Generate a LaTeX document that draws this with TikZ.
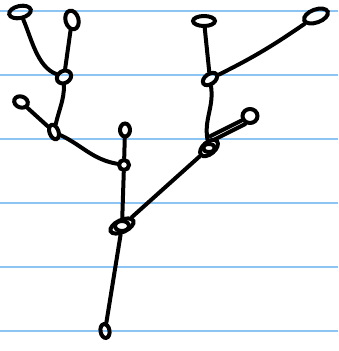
\documentclass[tikz,border=0pt]{standalone}
\usetikzlibrary{shapes.geometric,calc}
\definecolor{ruled}{HTML}{8CC4F4}
\tikzset{
  ink/.style={line width=4pt, line cap=round, line join=round, black},
  knob/.style={ellipse, draw, line width=4pt, inner sep=0pt},
  rule/.style={ruled, line width=1.3pt}
}
\begin{document}
\begin{tikzpicture}[x=1pt,y=-1pt]
\useasboundingbox (0,0) rectangle (338,351);
% ruled lines
\foreach \yy in {11,75,139,203,267,331}
  \draw[rule] (0,\yy) -- (338,\yy);
% nodes
\node[knob, minimum width=22pt, minimum height=12pt, rotate=12] (A) at (20,12) {};
\node[knob, minimum width=13pt, minimum height=19pt, rotate=15] (B) at (72,20) {};
\node[knob, minimum width=15pt, minimum height=12pt, rotate=30] (C) at (64,77) {};
\node[knob, minimum width=14pt, minimum height=11pt, rotate=-20] (D) at (21,102) {};
\node[knob, minimum width=9pt, minimum height=15pt, rotate=20] (E) at (54,132) {};
\node[knob, minimum width=10pt, minimum height=13pt] (F) at (125,130) {};
\node[knob, minimum width=10pt, minimum height=10pt] (G) at (124,165) {};
\node[knob, minimum width=25pt, minimum height=12pt, rotate=25] (H) at (122,226) {};
\node[knob, minimum width=9pt, minimum height=14pt, rotate=10] (I) at (105,331) {};
\node[knob, minimum width=22pt, minimum height=10pt] (J) at (204,21) {};
\node[knob, minimum width=25pt, minimum height=13pt, rotate=20] (K) at (316,16) {};
\node[knob, minimum width=16pt, minimum height=10pt, rotate=35] (L) at (210,79) {};
\node[knob, minimum width=15pt, minimum height=14pt] (M) at (250,116) {};
\node[knob, minimum width=21pt, minimum height=12pt, rotate=40] (N) at (209,148) {};
% knot loops
\draw[ink] (H.center) ellipse [x radius=7pt, y radius=5pt];
\draw[ink] (N.center) ellipse [x radius=6pt, y radius=4pt];
% connectors
\draw[ink] (A) to[out=-70,in=150, looseness=0.8] (C);
\draw[ink] (B) -- (C);
\draw[ink] (C) to[out=-100,in=70] (E);
\draw[ink] (D) -- (E);
\draw[ink] (E) to[out=-30,in=170] (G);
\draw[ink] (F) -- (G);
\draw[ink] (G) -- (H);
\draw[ink] (H) -- (I);
\draw[ink] (J) -- (L);
\draw[ink] (K) to[out=-150,in=20] (L);
\draw[ink] (L) to[out=-90,in=90] (N);
\draw[ink] ($(M.south west)+(-1.8,-1.8)$) -- ($(N.north east)+(-1.8,-1.8)$);
\draw[ink] ($(M.south west)+(1.8,1.8)$) -- ($(N.north east)+(1.8,1.8)$);
\draw[ink] (N) -- (H);
\end{tikzpicture}
\end{document}
